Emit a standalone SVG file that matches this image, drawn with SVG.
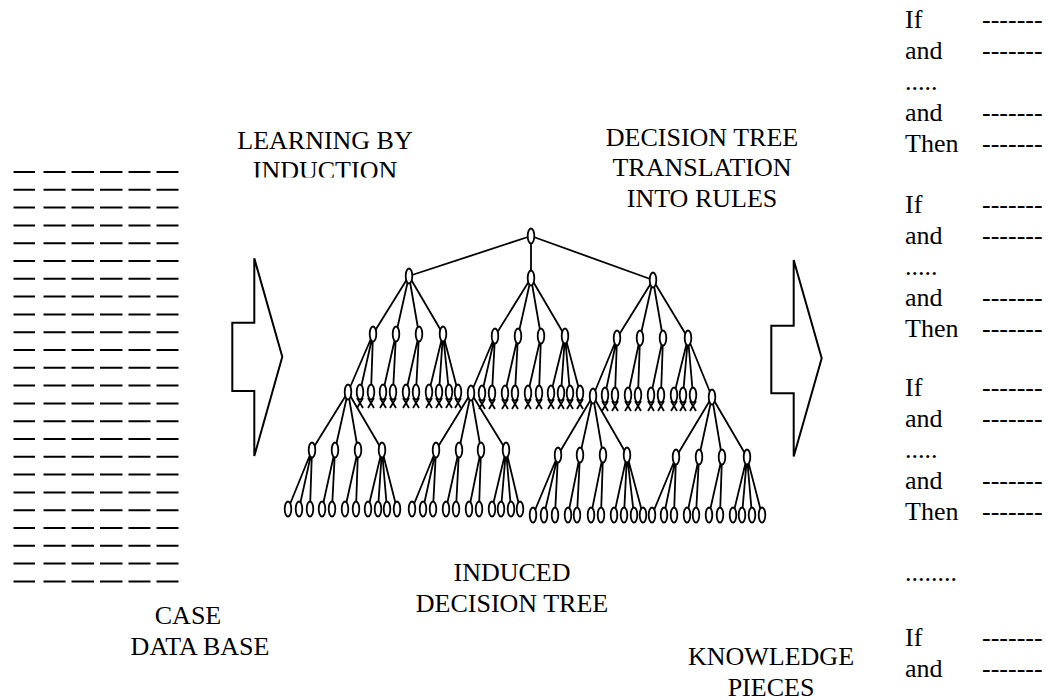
<svg xmlns="http://www.w3.org/2000/svg" width="1046" height="700" viewBox="0 0 1046 700">
<style>
.t{font-family:'Liberation Serif','Times New Roman',serif;font-size:26px;fill:#000}
.m{text-anchor:middle}
.ln{stroke:#000;stroke-width:1.8;fill:none}
.nd{fill:#fff;stroke:#000;stroke-width:1.8}
.x{stroke:#000;stroke-width:1.8;fill:none}
.ar{fill:none;stroke:#000;stroke-width:2}
.dr{stroke:#000;stroke-width:2;fill:none}
</style>
<defs>
<path id="row" d="M13.5 0h21.5M43.5 0h22M71.5 0h22.5M100 0h22.5M128.5 0h22M156.5 0h22"/>
<path id="xm" d="M-3 6L3 16M3 6L-3 16"/>
<clipPath id="clipInd"><rect x="0" y="150" width="1046" height="27.5"/></clipPath>
</defs>
<rect width="1046" height="700" fill="#fff"/>

<g id="case-data-base">
<g class="dr">
<use href="#row" y="172"/><use href="#row" y="189.8"/><use href="#row" y="207.6"/><use href="#row" y="225.4"/>
<use href="#row" y="243.2"/><use href="#row" y="261"/><use href="#row" y="278.8"/><use href="#row" y="296.6"/>
<use href="#row" y="314.4"/><use href="#row" y="332.2"/><use href="#row" y="350"/><use href="#row" y="367.8"/>
<use href="#row" y="385.6"/><use href="#row" y="403.4"/><use href="#row" y="421.2"/><use href="#row" y="439"/>
<use href="#row" y="456.8"/><use href="#row" y="474.6"/><use href="#row" y="492.4"/><use href="#row" y="510.2"/>
<use href="#row" y="528"/><use href="#row" y="545.8"/><use href="#row" y="563.6"/><use href="#row" y="581.4"/>
</g>
<text class="t m" x="188" y="624">CASE</text>
<text class="t m" x="200" y="655">DATA BASE</text>
</g>

<g id="learning-label">
<text class="t m" x="325" y="149">LEARNING BY</text>
<text class="t m" x="325" y="179" clip-path="url(#clipInd)">INDUCTION</text>
</g>

<g id="arrow-left">
<path class="ar" d="M232.3 322.7H254.3V258.3L282.3 356.7L254.3 456V391H232.3Z"/>
</g>

<g id="translation-label">
<text class="t m" x="702" y="145.5">DECISION TREE</text>
<text class="t m" x="702" y="176">TRANSLATION</text>
<text class="t m" x="702" y="206.5">INTO RULES</text>
</g>

<g id="arrow-right">
<path class="ar" d="M771.3 325.7H793.7V260L821.7 358.3L793.7 456.6V393.3H771.3Z"/>
</g>

<g id="tree-label">
<text class="t m" x="512" y="581">INDUCED</text>
<text class="t m" x="512" y="612">DECISION TREE</text>
</g>

<g id="knowledge-label">
<text class="t m" x="771" y="665">KNOWLEDGE</text>
<text class="t m" x="771" y="695.5">PIECES</text>
</g>

<g id="rules" class="t">
<text x="905" y="28">If</text><text x="982" y="28">-------</text>
<text x="905" y="59">and</text><text x="982" y="59">-------</text>
<text x="905" y="90">.....</text>
<text x="905" y="121">and</text><text x="982" y="121">-------</text>
<text x="905" y="152">Then</text><text x="982" y="152">-------</text>
<text x="905" y="213">If</text><text x="982" y="213">-------</text>
<text x="905" y="244">and</text><text x="982" y="244">-------</text>
<text x="905" y="275">.....</text>
<text x="905" y="306">and</text><text x="982" y="306">-------</text>
<text x="905" y="337">Then</text><text x="982" y="337">-------</text>
<text x="905" y="396">If</text><text x="982" y="396">-------</text>
<text x="905" y="427">and</text><text x="982" y="427">-------</text>
<text x="905" y="458">.....</text>
<text x="905" y="489">and</text><text x="982" y="489">-------</text>
<text x="905" y="520">Then</text><text x="982" y="520">-------</text>
<text x="905" y="581">........</text>
<text x="905" y="646">If</text><text x="982" y="646">-------</text>
<text x="905" y="677">and</text><text x="982" y="677">-------</text>
</g>

<g id="connectors" class="ln">
<path d="M531 236L409 276M531 236L531 278M531 236L653 280"/>
<path d="M409 276L373 334M409 276L396 334M409 276L419 334M409 276L443 334"/>
<path d="M531 278L495 336M531 278L518 336M531 278L541 336M531 278L565 336"/>
<path d="M653 280L617 338M653 280L640 338M653 280L663 338M653 280L688 338"/>
<path d="M373 334L348 392M373 334L360 392M373 334L371 392M396 334L383 392M396 334L393 392M419 334L406 392M419 334L416 392M443 334L429 392M443 334L439 392M443 334L449 392M443 334L458 392"/>
<path d="M495 336L471 393M495 336L482 393M495 336L492 393M518 336L505 393M518 336L515 393M541 336L528 393M541 336L539 393M565 336L551 393M565 336L561 393M565 336L570 393M565 336L580 393"/>
<path d="M617 338L593 396M617 338L605 395M617 338L615 395M640 338L628 395M640 338L638 395M663 338L651 395M663 338L661 395M688 338L674 395M688 338L683 395M688 338L693 395M688 338L712 397"/>
<path d="M348 392L312 450M348 392L335 450M348 392L358 450M348 392L382 450"/>
<path d="M312 450L288 509M312 450L299 509M312 450L310 509M335 450L322 509M335 450L332 509M358 450L345 509M358 450L356 509M382 450L368 509M382 450L378 509M382 450L387 509M382 450L397 509"/>
<path d="M471 393L436 450M471 393L459 450M471 393L481 450M471 393L506 450"/>
<path d="M436 450L412 509M436 450L423 509M436 450L433 509M459 450L446 509M459 450L456 509M481 450L469 509M481 450L479 509M506 450L492 509M506 450L501 509M506 450L511 509M506 450L520 509"/>
<path d="M593 396L558 455M593 396L580 455M593 396L603 455M593 396L627 455"/>
<path d="M558 455L533 515M558 455L544 515M558 455L555 515M580 455L568 515M580 455L577 515M603 455L591 515M603 455L601 515M627 455L614 515M627 455L624 515M627 455L634 515M627 455L643 515"/>
<path d="M712 397L676 457M712 397L699 457M712 397L722 457M712 397L747 457"/>
<path d="M676 457L652 515M676 457L664 515M676 457L674 515M699 457L687 515M699 457L696 515M722 457L709 515M722 457L720 515M747 457L733 515M747 457L742 515M747 457L752 515M747 457L762 515"/>
</g>

<g id="tree-nodes">
<g id="n-root"><ellipse class="nd" cx="531" cy="236" rx="3.3" ry="7.5"/></g>
<g id="n-a"><ellipse class="nd" cx="409" cy="276" rx="3.3" ry="7.5"/></g>
<g id="n-b"><ellipse class="nd" cx="531" cy="278" rx="3.3" ry="7.5"/></g>
<g id="n-c"><ellipse class="nd" cx="653" cy="280" rx="3.3" ry="7.5"/></g>
<g id="n-a1"><ellipse class="nd" cx="373" cy="334" rx="3.3" ry="7.5"/></g>
<g id="n-a2"><ellipse class="nd" cx="396" cy="334" rx="3.3" ry="7.5"/></g>
<g id="n-a3"><ellipse class="nd" cx="419" cy="334" rx="3.3" ry="7.5"/></g>
<g id="n-a4"><ellipse class="nd" cx="443" cy="334" rx="3.3" ry="7.5"/></g>
<g id="n-b1"><ellipse class="nd" cx="495" cy="336" rx="3.3" ry="7.5"/></g>
<g id="n-b2"><ellipse class="nd" cx="518" cy="336" rx="3.3" ry="7.5"/></g>
<g id="n-b3"><ellipse class="nd" cx="541" cy="336" rx="3.3" ry="7.5"/></g>
<g id="n-b4"><ellipse class="nd" cx="565" cy="336" rx="3.3" ry="7.5"/></g>
<g id="n-c1"><ellipse class="nd" cx="617" cy="338" rx="3.3" ry="7.5"/></g>
<g id="n-c2"><ellipse class="nd" cx="640" cy="338" rx="3.3" ry="7.5"/></g>
<g id="n-c3"><ellipse class="nd" cx="663" cy="338" rx="3.3" ry="7.5"/></g>
<g id="n-c4"><ellipse class="nd" cx="688" cy="338" rx="3.3" ry="7.5"/></g>

<g id="n-s1"><ellipse class="nd" cx="348" cy="392" rx="3.3" ry="7.5"/></g>
<g id="n-u1"><use class="x" href="#xm" x="360" y="392"/><ellipse class="nd" cx="360" cy="392" rx="3.3" ry="7.5"/></g>
<g id="n-u2"><use class="x" href="#xm" x="371" y="392"/><ellipse class="nd" cx="371" cy="392" rx="3.3" ry="7.5"/></g>
<g id="n-u3"><use class="x" href="#xm" x="383" y="392"/><ellipse class="nd" cx="383" cy="392" rx="3.3" ry="7.5"/></g>
<g id="n-u4"><use class="x" href="#xm" x="393" y="392"/><ellipse class="nd" cx="393" cy="392" rx="3.3" ry="7.5"/></g>
<g id="n-u5"><use class="x" href="#xm" x="406" y="392"/><ellipse class="nd" cx="406" cy="392" rx="3.3" ry="7.5"/></g>
<g id="n-u6"><use class="x" href="#xm" x="416" y="392"/><ellipse class="nd" cx="416" cy="392" rx="3.3" ry="7.5"/></g>
<g id="n-u7"><use class="x" href="#xm" x="429" y="392"/><ellipse class="nd" cx="429" cy="392" rx="3.3" ry="7.5"/></g>
<g id="n-u8"><use class="x" href="#xm" x="439" y="392"/><ellipse class="nd" cx="439" cy="392" rx="3.3" ry="7.5"/></g>
<g id="n-u9"><use class="x" href="#xm" x="449" y="392"/><ellipse class="nd" cx="449" cy="392" rx="3.3" ry="7.5"/></g>
<g id="n-u10"><use class="x" href="#xm" x="458" y="392"/><ellipse class="nd" cx="458" cy="392" rx="3.3" ry="7.5"/></g>
<g id="n-s2"><ellipse class="nd" cx="471" cy="393" rx="3.3" ry="7.5"/></g>
<g id="n-u11"><use class="x" href="#xm" x="482" y="393"/><ellipse class="nd" cx="482" cy="393" rx="3.3" ry="7.5"/></g>
<g id="n-u12"><use class="x" href="#xm" x="492" y="393"/><ellipse class="nd" cx="492" cy="393" rx="3.3" ry="7.5"/></g>
<g id="n-u13"><use class="x" href="#xm" x="505" y="393"/><ellipse class="nd" cx="505" cy="393" rx="3.3" ry="7.5"/></g>
<g id="n-u14"><use class="x" href="#xm" x="515" y="393"/><ellipse class="nd" cx="515" cy="393" rx="3.3" ry="7.5"/></g>
<g id="n-u15"><use class="x" href="#xm" x="528" y="393"/><ellipse class="nd" cx="528" cy="393" rx="3.3" ry="7.5"/></g>
<g id="n-u16"><use class="x" href="#xm" x="539" y="393"/><ellipse class="nd" cx="539" cy="393" rx="3.3" ry="7.5"/></g>
<g id="n-u17"><use class="x" href="#xm" x="551" y="393"/><ellipse class="nd" cx="551" cy="393" rx="3.3" ry="7.5"/></g>
<g id="n-u18"><use class="x" href="#xm" x="561" y="393"/><ellipse class="nd" cx="561" cy="393" rx="3.3" ry="7.5"/></g>
<g id="n-u19"><use class="x" href="#xm" x="570" y="393"/><ellipse class="nd" cx="570" cy="393" rx="3.3" ry="7.5"/></g>
<g id="n-u20"><use class="x" href="#xm" x="580" y="393"/><ellipse class="nd" cx="580" cy="393" rx="3.3" ry="7.5"/></g>
<g id="n-s3"><ellipse class="nd" cx="593" cy="396" rx="3.3" ry="7.5"/></g>
<g id="n-u21"><use class="x" href="#xm" x="605" y="395"/><ellipse class="nd" cx="605" cy="395" rx="3.3" ry="7.5"/></g>
<g id="n-u22"><use class="x" href="#xm" x="615" y="395"/><ellipse class="nd" cx="615" cy="395" rx="3.3" ry="7.5"/></g>
<g id="n-u23"><use class="x" href="#xm" x="628" y="395"/><ellipse class="nd" cx="628" cy="395" rx="3.3" ry="7.5"/></g>
<g id="n-u24"><use class="x" href="#xm" x="638" y="395"/><ellipse class="nd" cx="638" cy="395" rx="3.3" ry="7.5"/></g>
<g id="n-u25"><use class="x" href="#xm" x="651" y="395"/><ellipse class="nd" cx="651" cy="395" rx="3.3" ry="7.5"/></g>
<g id="n-u26"><use class="x" href="#xm" x="661" y="395"/><ellipse class="nd" cx="661" cy="395" rx="3.3" ry="7.5"/></g>
<g id="n-u27"><use class="x" href="#xm" x="674" y="395"/><ellipse class="nd" cx="674" cy="395" rx="3.3" ry="7.5"/></g>
<g id="n-u28"><use class="x" href="#xm" x="683" y="395"/><ellipse class="nd" cx="683" cy="395" rx="3.3" ry="7.5"/></g>
<g id="n-u29"><use class="x" href="#xm" x="693" y="395"/><ellipse class="nd" cx="693" cy="395" rx="3.3" ry="7.5"/></g>
<g id="n-s4"><ellipse class="nd" cx="712" cy="397" rx="3.3" ry="7.5"/></g>

<g id="n-s1a"><ellipse class="nd" cx="312" cy="450" rx="3.3" ry="7.5"/></g>
<g id="n-s1b"><ellipse class="nd" cx="335" cy="450" rx="3.3" ry="7.5"/></g>
<g id="n-s1c"><ellipse class="nd" cx="358" cy="450" rx="3.3" ry="7.5"/></g>
<g id="n-s1d"><ellipse class="nd" cx="382" cy="450" rx="3.3" ry="7.5"/></g>
<g id="n-s2a"><ellipse class="nd" cx="436" cy="450" rx="3.3" ry="7.5"/></g>
<g id="n-s2b"><ellipse class="nd" cx="459" cy="450" rx="3.3" ry="7.5"/></g>
<g id="n-s2c"><ellipse class="nd" cx="481" cy="450" rx="3.3" ry="7.5"/></g>
<g id="n-s2d"><ellipse class="nd" cx="506" cy="450" rx="3.3" ry="7.5"/></g>
<g id="n-s3a"><ellipse class="nd" cx="558" cy="455" rx="3.3" ry="7.5"/></g>
<g id="n-s3b"><ellipse class="nd" cx="580" cy="455" rx="3.3" ry="7.5"/></g>
<g id="n-s3c"><ellipse class="nd" cx="603" cy="455" rx="3.3" ry="7.5"/></g>
<g id="n-s3d"><ellipse class="nd" cx="627" cy="455" rx="3.3" ry="7.5"/></g>
<g id="n-s4a"><ellipse class="nd" cx="676" cy="457" rx="3.3" ry="7.5"/></g>
<g id="n-s4b"><ellipse class="nd" cx="699" cy="457" rx="3.3" ry="7.5"/></g>
<g id="n-s4c"><ellipse class="nd" cx="722" cy="457" rx="3.3" ry="7.5"/></g>
<g id="n-s4d"><ellipse class="nd" cx="747" cy="457" rx="3.3" ry="7.5"/></g>

<g id="n-l1"><ellipse class="nd" cx="288" cy="509" rx="3.3" ry="7.5"/></g>
<g id="n-l2"><ellipse class="nd" cx="299" cy="509" rx="3.3" ry="7.5"/></g>
<g id="n-l3"><ellipse class="nd" cx="310" cy="509" rx="3.3" ry="7.5"/></g>
<g id="n-l4"><ellipse class="nd" cx="322" cy="509" rx="3.3" ry="7.5"/></g>
<g id="n-l5"><ellipse class="nd" cx="332" cy="509" rx="3.3" ry="7.5"/></g>
<g id="n-l6"><ellipse class="nd" cx="345" cy="509" rx="3.3" ry="7.5"/></g>
<g id="n-l7"><ellipse class="nd" cx="356" cy="509" rx="3.3" ry="7.5"/></g>
<g id="n-l8"><ellipse class="nd" cx="368" cy="509" rx="3.3" ry="7.5"/></g>
<g id="n-l9"><ellipse class="nd" cx="378" cy="509" rx="3.3" ry="7.5"/></g>
<g id="n-l10"><ellipse class="nd" cx="387" cy="509" rx="3.3" ry="7.5"/></g>
<g id="n-l11"><ellipse class="nd" cx="397" cy="509" rx="3.3" ry="7.5"/></g>
<g id="n-l12"><ellipse class="nd" cx="412" cy="509" rx="3.3" ry="7.5"/></g>
<g id="n-l13"><ellipse class="nd" cx="423" cy="509" rx="3.3" ry="7.5"/></g>
<g id="n-l14"><ellipse class="nd" cx="433" cy="509" rx="3.3" ry="7.5"/></g>
<g id="n-l15"><ellipse class="nd" cx="446" cy="509" rx="3.3" ry="7.5"/></g>
<g id="n-l16"><ellipse class="nd" cx="456" cy="509" rx="3.3" ry="7.5"/></g>
<g id="n-l17"><ellipse class="nd" cx="469" cy="509" rx="3.3" ry="7.5"/></g>
<g id="n-l18"><ellipse class="nd" cx="479" cy="509" rx="3.3" ry="7.5"/></g>
<g id="n-l19"><ellipse class="nd" cx="492" cy="509" rx="3.3" ry="7.5"/></g>
<g id="n-l20"><ellipse class="nd" cx="501" cy="509" rx="3.3" ry="7.5"/></g>
<g id="n-l21"><ellipse class="nd" cx="511" cy="509" rx="3.3" ry="7.5"/></g>
<g id="n-l22"><ellipse class="nd" cx="520" cy="509" rx="3.3" ry="7.5"/></g>
<g id="n-l23"><ellipse class="nd" cx="533" cy="515" rx="3.3" ry="7.5"/></g>
<g id="n-l24"><ellipse class="nd" cx="544" cy="515" rx="3.3" ry="7.5"/></g>
<g id="n-l25"><ellipse class="nd" cx="555" cy="515" rx="3.3" ry="7.5"/></g>
<g id="n-l26"><ellipse class="nd" cx="568" cy="515" rx="3.3" ry="7.5"/></g>
<g id="n-l27"><ellipse class="nd" cx="577" cy="515" rx="3.3" ry="7.5"/></g>
<g id="n-l28"><ellipse class="nd" cx="591" cy="515" rx="3.3" ry="7.5"/></g>
<g id="n-l29"><ellipse class="nd" cx="601" cy="515" rx="3.3" ry="7.5"/></g>
<g id="n-l30"><ellipse class="nd" cx="614" cy="515" rx="3.3" ry="7.5"/></g>
<g id="n-l31"><ellipse class="nd" cx="624" cy="515" rx="3.3" ry="7.5"/></g>
<g id="n-l32"><ellipse class="nd" cx="634" cy="515" rx="3.3" ry="7.5"/></g>
<g id="n-l33"><ellipse class="nd" cx="643" cy="515" rx="3.3" ry="7.5"/></g>
<g id="n-l34"><ellipse class="nd" cx="652" cy="515" rx="3.3" ry="7.5"/></g>
<g id="n-l35"><ellipse class="nd" cx="664" cy="515" rx="3.3" ry="7.5"/></g>
<g id="n-l36"><ellipse class="nd" cx="674" cy="515" rx="3.3" ry="7.5"/></g>
<g id="n-l37"><ellipse class="nd" cx="687" cy="515" rx="3.3" ry="7.5"/></g>
<g id="n-l38"><ellipse class="nd" cx="696" cy="515" rx="3.3" ry="7.5"/></g>
<g id="n-l39"><ellipse class="nd" cx="709" cy="515" rx="3.3" ry="7.5"/></g>
<g id="n-l40"><ellipse class="nd" cx="720" cy="515" rx="3.3" ry="7.5"/></g>
<g id="n-l41"><ellipse class="nd" cx="733" cy="515" rx="3.3" ry="7.5"/></g>
<g id="n-l42"><ellipse class="nd" cx="742" cy="515" rx="3.3" ry="7.5"/></g>
<g id="n-l43"><ellipse class="nd" cx="752" cy="515" rx="3.3" ry="7.5"/></g>
<g id="n-l44"><ellipse class="nd" cx="762" cy="515" rx="3.3" ry="7.5"/></g>
</g>
</svg>
